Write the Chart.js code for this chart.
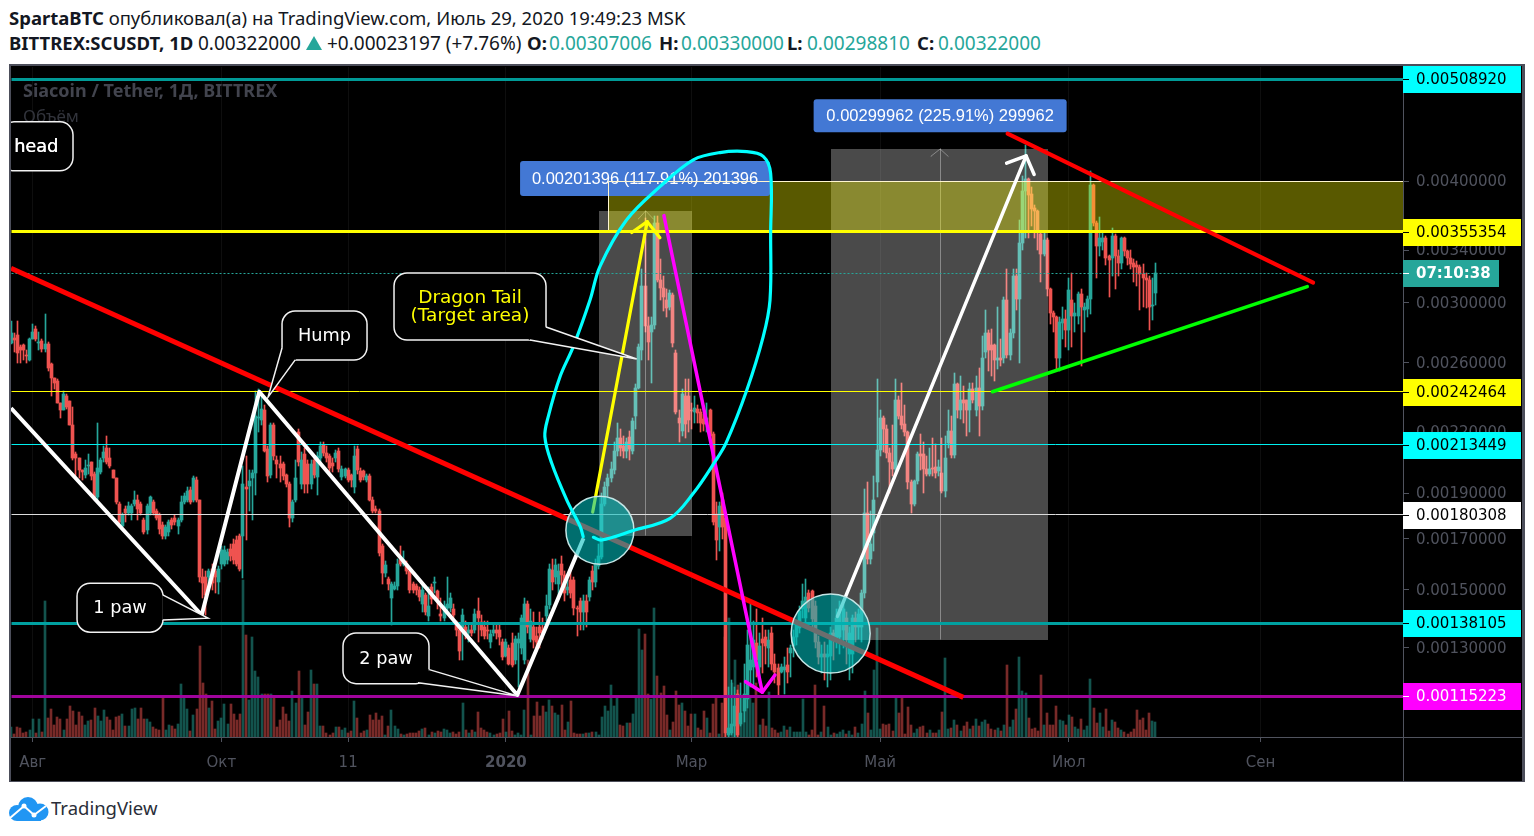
<!DOCTYPE html>
<html>
<head>
<meta charset="utf-8">
<title>SCUSDT</title>
<script src="https://cdn.jsdelivr.net/npm/chart.js@4/dist/chart.umd.js"></script>
<style>
  html, body { margin: 0; padding: 0; background: #fff; width: 1534px; height: 836px; overflow: hidden; }
  #c { position: absolute; left: 0; top: 0; }
  .t { position: absolute; white-space: nowrap; font-family: "Noto Sans", sans-serif; font-size: 18.5px; color: #131722; line-height: 22px; }
  .t b { font-weight: 700; }
  .n { font-size: 19px; }
  .v { color: #26a69a; font-size: 19px; }
</style>
</head>
<body>
<div class="t" style="left:9px;top:7px"><b>SpartaBTC</b> опубликовал(а) на TradingView.com, Июль 29, 2020 19:49:23 MSK</div>
<div class="t" style="left:9px;top:32px"><b>BITTREX:SCUSDT, 1D</b></div>
<div class="t n" style="left:198px;top:32px">0.00322000</div>
<svg style="position:absolute;left:306px;top:36px" width="16" height="14"><path d="M8 0L16 14H0Z" fill="#26a69a"/></svg>
<div class="t n" style="left:327px;top:32px">+0.00023197 (+7.76%)</div>
<div class="t" style="left:527px;top:32px"><b>O:</b></div><div class="t v" style="left:549px;top:32px">0.00307006</div>
<div class="t" style="left:659px;top:32px"><b>H:</b></div><div class="t v" style="left:681px;top:32px">0.00330000</div>
<div class="t" style="left:787px;top:32px"><b>L:</b></div><div class="t v" style="left:807px;top:32px">0.00298810</div>
<div class="t" style="left:917px;top:32px"><b>C:</b></div><div class="t v" style="left:938px;top:32px">0.00322000</div>
<svg style="position:absolute;left:9px;top:797px" width="40" height="24" viewBox="0 0 40 24">
  <circle cx="8" cy="16" r="8" fill="#2196f3"/><circle cx="19" cy="10" r="10" fill="#2196f3"/><circle cx="31" cy="15" r="8.5" fill="#2196f3"/><rect x="8" y="14" width="24" height="10" fill="#2196f3"/>
  <path d="M1 21L15 9L25 18L37 9" fill="none" stroke="#fff" stroke-width="2"/><circle cx="15" cy="9" r="2.5" fill="#fff"/><circle cx="25" cy="18" r="2.5" fill="#fff"/>
</svg>
<div class="t" style="left:51px;top:797px;font-size:18.5px;color:#2a2e39">TradingView</div>
<canvas id="c" width="1534" height="836"></canvas>
<script>
// prices are in units of 0.00001, one candle per day from 25 Jul 2019
const opens = [
  272.5,276,278,270,271,265,262,275,282,272.5,
  274,269,272,259,251,249,236,232,240,237,
  224,209,207,201,198.5,203,205,199,188,200,
  207,212,207,201,197,185,175.5,183,181,181,
  185,187,185,178,173.5,181,186,182,180,176,
  171,173,178,179,175.5,178,186,187,191.5,187,
  196,187,155,155,155,158,157,153,160,160,
  161.5,166,168,169.5,171,171,193,193.5,197,199.5,
  228,226.7,232,211.5,198.5,224,206,204,204,198.5,
  194,179,187,220,194,209,204,194,206,197.5,
  207,213.5,209.5,208,204.5,207,210.5,197.5,198,201,
  198.5,193,211.5,200.5,200.5,196,198,187,183,182,
  167,156.5,154,147,150.5,151.5,161.5,160,160,157,
  152,151.5,150,145,148,140.5,151,152.5,149.5,141.5,
  140,143.5,143.5,143,138.5,136,136.5,137,135,136,
  136,142.5,138.5,137,136,132,135,136,136,132,
  127.5,130,131.5,126,131.5,130,126,145,133,137,
  134,137,136,140.5,144.5,157.5,155,152,160,155.5,
  150,153.5,153.5,143.5,146,142,146,147.5,157,153,
  159,162.5,185,193.5,197,201,210.5,217,213,210.5,
  217.5,210.5,229,245,268,312.5,284,280,284.5,363,
  317,311,302,297,306,266,228,221,240,240,
  232,231,232.5,231,227,224.5,232,219,180.5,175,
  187,179,104.5,105,107,116,107.5,111,114.5,123,
  124,131.5,124,133,133.5,130,135,125,123.5,122.5,
  123,124.5,128.5,130.5,133.5,136.5,143,140,149,149.5,
  144,132,127,128,127,127.5,135,132.5,133.5,136,
  140,128,128,140,137,137,149,181,162,172.5,
  195,211,228,222,209.5,205,201.5,238,229,224.5,
  220,195,185,195.5,209,209,201.5,199,202,202.5,
  200.5,199.5,191,214.5,220.5,208.5,247,232,237.8,238,
  232,244,232,245,234.5,266.5,279,271,271,262,
  263,263,302,265,279,320,303,345.5,391,402,
  388,376,373,353,337,348,310,293,290,263,
  286,289,281,302,291,291,306.5,295,295.5,303,
  397,363,343,346.5,350,335,334,352,335,330,
  350,339,334,330,328,327,321.5,318,317,298,
  307.006
];
const highs = [
  287,279,287,271,272,268,276,285,284,280,
  275,292,273,260,251,250,236,243,241,237,
  234,210,207,201,206,209,205,200,225,207,
  213,218,212,201,197,186,181,184,186,185,
  191,189,186,179,185,188.5,187,183,181,177,
  176,178,179,180,179,188.5,190,193,193,198,
  197.5,187,158,157,158,160,158,159,167,167,
  166,168,170,171,172,203,208,201,201,243,
  244,240,235,213,225,225,208,208,205,199,
  195,187,206,222,210,212,206,206,208,210,
  215,215,213,209,207,211,212,203,202,202,
  199,213,213,202,201,199,199,188,184,183,
  168,161,155,153,153,162,167,165,161,158,
  153,152,151,152,149,151,152,155,150,147,
  146,155,149,145,139,137,143,139,138,138,
  143,147,141,139,139,136,138,138,138,133,
  133,131,135,134,135,141,147,146,143,142,
  137,142,140,148,160,162,162,160,163,157,
  156,157,155,144,147,148,148,155,159,162,
  168,190,195,199,205,215,225,222,218,217,
  221,228,247,272,325,367,290,290,369,369,
  333,320,310,309,307,268,232,244,250,250,
  236,240,235,233,230,236,233,220,186,186,
  190,180,118,120,118,117,119,125,136,145,
  139,143,135,140,136,136,137,128,125,125,
  127,130,131,136,139,144,152,154,150,150,
  146,134,131,132,131,137,136,143,146,145,
  142,137,141,142,143,150,192,195,182,198,
  250,232,229,224,212,224,250,240,248,235,
  221,196,196,210,219,215,208,212,217,214,
  206,217,218,232,229,254,248,252,246,238,
  248,248,252,257,277,295,281,282,272,297,
  275,304,325,282,325,325,365,405,436,403,
  395,378,374,356,355,350,311,294,291,290,
  297,295,318,322,300,308,310,300,305,410,
  398,364,368,355,352,336,358,353,340,351,
  351,340,340,333,331,328,329,322,320,318,
  330
];
const lows = [
  272,267,260,260,262,260,261,275,274,268,
  267,267,255,240,244,236,228,232,233,224,
  206,197,197,196,197,199,196,187,187,199,
  205,204,202,197,185,176,175,177,180,178,
  184,178,180,172,172,180,180,178,172,170,
  170,171,174,176,172,177,185,186,185,186,
  186,153,147,141,150,150,149,148.5,158,159,
  160,161,160,159,157,154.5,169.5,182,178,189,
  220,224,210,195,197,206,197,195,196,193,
  175,177,186,203,192,190,190,192,197,189,
  205,208,205,200,200,205,200,196,197,195,
  193,190,199,195,196,195,186.5,181,181,163,
  152,155,150,137.5,150,150,159,159,156,149,
  149,148,146,142,141,139,145,149,143,139,
  139,142,142,140,134,126,126,133,132,134,
  135,132,134,133,133,130,134,133,131,126,
  127,124.5,124,125,118,128,125,135,132,130,
  129,130,133,139,143,150,152,148,150,146,
  148,147,141,134,136,136,137,146,150,151,
  158,162,184,188,195,199,208,208,207,207,
  206,209,222,244,262,280,262,248,282,315,
  302,294,290,295,270,230,215,218,217,220,
  222,225,225,220,221,220,216,176,161.5,165,
  170,104,104,104.5,104,104,107,108,112,118,
  118,121,119,122,125,124,123,119,115,122,
  116,119,121,127,131,135,140,138,142,137,
  130,125,122,120,118,120,126,130,128,130,
  125,120,122,132,133,132,147,160,160,165,
  188,208,210,207,190,198,199,227,222,218,
  192,181,184,194,201,190,198,198,198,197,
  198,190,188,212,207,207,228,227,225,218,
  220,236,229,218,232,263,255,252,249,256,
  258,260,263,262,276,295,260,340,350,350,
  360,350,340,315,335,305,285,280,255,255,
  275,270,268,270,280,285,258,280,290,292,
  360,318,335,340,328,304,320,310,320,325,
  335,328,325,315,312,295,297,296,281,288,
  298.81
];
const closes = [
  279,274.6,266,268,268,264,275,280,275,273.5,
  269,272,257,251,248,236,232,241,234,224,
  207,207,201,200,202,203.5,198,188,202,206,
  210,205,203,197,186,177,180,181,184,184,
  187,183,181,173,184,188,181,179,174,171,
  175,177,176,177,178,186,188.5,191,186,197,
  187,155,152.5,148,157,152.5,155,158,165.5,165.5,
  164.5,163,161.5,160,158,194,192,195.5,199.5,229,
  228.5,233,210.5,198,224,208,204,202,198,194,
  179,186,197,205,206,194,194,204,198.5,208,
  213,209.5,207,202,203,209.5,201.5,201.5,201.5,196,
  196,208,201,196,197.5,198,187,182,182,164,
  156.5,159.5,152,152,151.5,160,160,161.5,157,150,
  150,150,147.5,150,142,144,146.5,153,146.5,140.5,
  144,145,147,141,136,129,141,134.5,136,135,
  141.5,140,136,134,135.5,134.5,136,135,133.5,127,
  132,125,124.5,133,133,140,145,137,139,132.5,
  132,135,135,144,158,153,159.5,157,155.5,149,
  151,149,143.5,143,142,146,142,153.5,153,160,
  163,185,193,197,201.5,210.5,217,212,210.5,215,
  211.5,226,245,270,312.5,284,273,284.5,363,317,
  311,304,296,307,272.5,231,225,241,224.5,226.7,
  231.5,233.5,230.5,225,224.5,227.5,218,177,169.5,184,
  175,105,106.5,107.5,112.5,104.5,110.5,116,131,126,
  132.5,126,130.5,131.5,130.5,132.5,125,122.5,118.5,124,
  124,122.5,130,133.5,137.5,142.5,146,147.5,143.5,139.5,
  132,127,128,127,128,135,132.5,140,143,143,
  132.5,135,140,137,141.5,149,181,162,168,187,
  211,228,222,209.5,205,201.5,238,229,224,220,
  195,185,195.5,209,208,201.5,199,201.5,201.5,199.5,
  202.5,191,207,220.5,208.5,247,232,237.8,236,232,
  244,238,245,234.5,263,279,268,268,262,263,
  262,302,265,279,320,303,345.5,391,402,387,
  375,373,356,337,348,310,293,290,263,286.5,
  289,281,309,291,293,306.5,297,297,303,397,
  363,343,350,350,334,332.5,352,335,330,350,
  339,334,329,326.5,327,321.5,318,317,297,298.8,
  322
];
const volumes = [
  10,3,10,9,4,5,7,18,4,18,
  5,136,19,28,12,20,18,7,18,31,
  26,12,25,21,12,16,17,29,21,16,
  27,20,17,7,20,21,23,11,11,28,
  29,18,29,18,18,15,10,8,7,39,
  7,12,11,8,13,53,39,28,6,22,
  28,91,54,43,29,36,8,16,19,33,
  13,33,23,17,23,157,102,37,100,66,
  60,43,43,43,43,39,10,17,30,23,
  16,46,34,66,39,12,25,67,53,53,
  11,11,4,2,4,10,10,7,9,4,
  6,36,19,4,6,7,22,17,24,17,
  21,2,11,27,11,8,3,2,3,4,
  4,4,6,8,9,2,5,4,6,5,
  8,7,4,5,3,5,34,7,4,7,
  5,25,9,7,5,4,2,3,4,18,
  5,26,6,2,4,2,27,77,2,21,
  35,21,31,25,37,31,24,22,32,7,
  15,36,4,3,3,3,4,4,5,5,
  2,20,31,26,52,31,41,12,11,14,
  14,23,39,108,87,103,43,38,129,61,
  44,51,22,7,15,46,32,34,26,11,
  23,23,9,7,26,19,4,33,39,3,
  34,100,119,54,77,52,41,41,41,41,
  34,54,12,18,11,45,9,7,4,5,
  11,7,10,5,5,5,38,5,2,7,
  52,2,5,31,10,2,4,3,5,7,
  3,6,2,10,4,13,46,24,7,67,
  109,8,13,12,13,6,39,24,39,3,
  30,12,4,8,10,11,4,7,4,4,
  7,25,79,8,9,17,12,6,11,15,
  8,11,18,11,15,17,13,8,7,9,
  6,12,72,10,17,28,80,46,44,19,
  8,9,6,62,12,24,12,12,31,17,
  16,12,22,20,10,8,18,7,11,58,
  29,14,24,10,28,6,17,15,9,7,
  5,3,5,8,27,17,19,7,24,16,
  15
];

const priceTicks = [400, 340, 300, 260, 220, 190, 170, 150, 130];
const dateTickDays = [7, 68, 109, 160, 220, 281, 342, 404];
const dateTickLabels = ['Авг', 'Окт', '11', '2020', 'Мар', 'Май', 'Июл', 'Сен'];

const levelPrices = [508.92, 355.354, 242.464, 213.449, 180.308, 138.105, 115.223];
const lastPrice = 322;
const countdown = '07:10:38';

// drawings, as [day, price]
const bigRedTrend = [[0, 325.8], [307.9, 114.9]];
const whiteZigzag = [[0, 233.2], [61.66, 141], [80.28, 242.6], [163.7, 115.6], [185.1, 170.2]];
const yellowShaft = [[188.06, 181.4], [205.7, 363.8]];
const yellowHead = [[200.7, 354.5], [205.7, 363.8], [209.8, 350.2]];
const magentaLine = [[211.1, 369], [242.9, 116.4]];
const magentaHead = [[237.5, 119.5], [242.9, 116.4], [247, 121.5]];
const whiteShaft = [[267.2, 140.5], [328.2, 425]];
const whiteHead = [[321.9, 417.8], [328.2, 425], [330.8, 406.7]];
const redFalling = [[322.2, 447.8], [421, 314.8]];
const greenRising = [[317.3, 242.6], [419.1, 311.8]];
const cyanCurve = [
  [188.3, 170.6], [191, 169.5], [201.2, 173.5], [213.1, 178.7], [220.6, 189.9], [227.6, 205],
  [231.2, 214.5], [237.9, 243.6], [243.2, 276.8], [245.4, 302], [245.6, 354], [245.6, 407.8],
  [243.2, 424.4], [237.9, 429.2], [229.2, 428.3], [220.6, 421], [209.8, 395.2], [199, 365.2],
  [190.4, 327], [187.2, 302], [181.8, 270.3], [177.5, 251.5], [173.7, 228.5], [172.6, 217.8],
  [174.8, 204.3], [179.7, 186.8], [184, 175.2], [185, 170.9]
];
const circleCenters = [[190.4, 173.6], [265, 134.7]];
const targetZone = [[193.3, 355.354], [193.3, 400], [450.05, 400], [450.05, 355.354]];
const measureA = [[190.1, 171.2], [190.1, 373.2], [220.2, 373.2], [220.2, 171.2]];
const measureB = [[265.1, 132.6], [265.1, 431.9], [335.3, 431.9], [335.3, 132.6]];
const measureAxisA = [[205.2, 171.2], [205.2, 373.2]];
const measureHeadA = [[202.8, 366], [205.2, 373.2], [207.7, 366]];
const measureAxisB = [[300.4, 132.6], [300.4, 431.9]];
const measureHeadB = [[297.4, 424.5], [300.4, 431.9], [303, 424.5]];
const measureTexts = ['0.00201396 (117.91%) 201396', '0.00299962 (225.91%) 299962'];

const UP = '#26a69a', DOWN = '#ef5350';
const GREY = '#50535e', FRAME = '#4c4e5a';
const levelStyles = [
  { line: '#009a96', w: 3, box: '#00ffff', text: '#000' },
  { line: '#ffff00', w: 3, box: '#ffff00', text: '#000' },
  { line: '#ffff00', w: 1, box: '#ffff00', text: '#000' },
  { line: '#00f0f0', w: 1, box: '#00ffff', text: '#000' },
  { line: '#dddddd', w: 1, box: '#ffffff', text: '#000' },
  { line: '#00a0a0', w: 3, box: '#00ffff', text: '#000' },
  { line: '#a0049c', w: 3, box: '#ff00ff', text: '#fff' }
];

// snap: hidden twin axes round to whole or half pixels so bars and thin lines stay crisp
const snapTo = (p, s) => (s === undefined ? p : Math.round(p - s) + s);

// TradingView log axis is log(price + offset), not plain log
const PRICE_OFFSET = 10;
class TvLogScale extends Chart.LogarithmicScale {
  configure() {
    super.configure();
    this._lo = Math.log(this.min + PRICE_OFFSET);
    this._rng = Math.log(this.max + PRICE_OFFSET) - this._lo;
  }
  getPixelForValue(v) {
    if (v === null || isNaN(v)) return NaN;
    return snapTo(this.getPixelForDecimal((Math.log(v + PRICE_OFFSET) - this._lo) / this._rng), this.options.snap);
  }
  getValueForPixel(p) {
    return Math.exp(this._lo + this.getDecimalForPixel(p) * this._rng) - PRICE_OFFSET;
  }
}
TvLogScale.id = 'tvLog';
TvLogScale.defaults = Chart.LogarithmicScale.defaults;

class SnapLinearScale extends Chart.LinearScale {
  getPixelForValue(v) { return snapTo(super.getPixelForValue(v), this.options.snap); }
}
SnapLinearScale.id = 'snapLinear';
SnapLinearScale.defaults = Chart.LinearScale.defaults;
Chart.register(TvLogScale, SnapLinearScale);

const pts = arr => arr.map(p => ({ x: p[0], y: p[1] }));
const days = closes.map((_, i) => i);
const candleCol = days.map(i => closes[i] >= opens[i] ? UP : DOWN);
const volCol = days.map(i => closes[i] >= opens[i] ? 'rgba(38,166,154,.5)' : 'rgba(239,83,80,.5)');

function line(label, data, color, width, order, extra) {
  return Object.assign({
    type: 'line', label, data: pts(data), borderColor: color, borderWidth: width,
    pointRadius: 0, tension: 0, fill: false, order, clip: 0, xAxisID: 'x', yAxisID: 'y',
    borderCapStyle: 'round', borderJoinStyle: 'round'
  }, extra || {});
}
function shape(label, data, color, order) {
  return line(label, data, 'transparent', 0, order, { fill: 'shape', backgroundColor: color, xAxisID: 'xWhole', yAxisID: 'yWhole' });
}

const xMax = 450.05, yMin = 104, yMax = 523.8;
const crisp = { xAxisID: 'xHalf', yAxisID: 'yHalf', borderCapStyle: 'butt' };
const datasets = [
  { type: 'bar', label: 'vol', data: days.map(i => ({ x: i, y: volumes[i] })), backgroundColor: volCol,
    barThickness: 2, grouped: false, order: 60, xAxisID: 'xWhole', yAxisID: 'y1' },
  { type: 'bar', label: 'wick', data: days.map(i => ({ x: i, y: [lows[i], highs[i]] })), backgroundColor: candleCol,
    barThickness: 1, grouped: false, order: 50, xAxisID: 'xHalf', yAxisID: 'yWhole' },
  { type: 'bar', label: 'body', data: days.map(i => ({ x: i, y: [Math.min(opens[i], closes[i]), Math.max(opens[i], closes[i])] })),
    backgroundColor: candleCol, barThickness: 3, minBarLength: 1, grouped: false, order: 49, xAxisID: 'xHalf', yAxisID: 'yWhole' },
  shape('measureA', measureA, 'rgba(255,255,255,.29)', 40),
  shape('measureB', measureB, 'rgba(255,255,255,.29)', 40),
  line('axisA', measureAxisA, 'rgba(255,255,255,.35)', 1, 39, crisp),
  line('headA', measureHeadA, 'rgba(255,255,255,.35)', 1, 39),
  line('axisB', measureAxisB, 'rgba(255,255,255,.35)', 1, 39, crisp),
  line('headB', measureHeadB, 'rgba(255,255,255,.35)', 1, 39),
  shape('zone', targetZone, 'rgba(255,255,0,.35)', 38),
  line('zoneEdge', targetZone.slice(0, 3), '#fff6d0', 1, 37, crisp)
];
levelPrices.forEach((p, k) => {
  datasets.push(line('level' + k, [[0, p], [xMax, p]], levelStyles[k].line, levelStyles[k].w, 36, crisp));
});
datasets.push(
  line('last', [[0, lastPrice], [xMax, lastPrice]], '#26a69a', 1, 36, Object.assign({ borderDash: [2, 2] }, crisp)),
  line('bigRed', bigRedTrend, '#ff0000', 5, 30, { borderCapStyle: 'butt' }),
  line('zigzag', whiteZigzag, '#ffffff', 4, 29, { borderCapStyle: 'butt' }),
  line('whiteShaft', whiteShaft, '#ffffff', 3.5, 29),
  line('whiteHead', whiteHead, '#ffffff', 3.5, 29),
  line('yellowShaft', yellowShaft, '#ffff00', 3.2, 29),
  line('yellowHead', yellowHead, '#ffff00', 3.2, 29),
  line('redFalling', redFalling, '#ff0000', 4, 29),
  line('green', greenRising, '#00ff00', 3.5, 29),
  { type: 'line', label: 'circles', data: pts(circleCenters), showLine: false, pointRadius: [34, 39.5],
    pointBackgroundColor: 'rgba(0,190,190,.58)', pointBorderColor: '#c4e6e6', pointBorderWidth: 1.5,
    order: 28, clip: false, xAxisID: 'x', yAxisID: 'y' },
  line('magenta', magentaLine, '#ff00ff', 3.5, 27),
  line('magentaHead', magentaHead, '#ff00ff', 3.5, 27),
  line('cyan', cyanCurve, '#00ffff', 3.2, 26, { tension: 0.35 })
);

const callouts = [
  { lines: ['head'], at: [0, 460.4], box: [-10, 0, 72, 49], color: '#fff', tx: 3, bold: true },
  { lines: ['1 paw'], at: [63.7, 139.9], box: [-131, -35, 86, 49], base: [[-45.3, -23.3], [-45.3, 1.7]], color: '#fff' },
  { lines: ['2 paw'], at: [163.5, 115.4], box: [-173.7, -62.7, 86, 50.7], base: [[-87.4, -26], [-98.7, -13]], color: '#fff' },
  { lines: ['Hump'], at: [83.1, 239.5], box: [14, -86, 85, 49], base: [[14, -49], [27, -37]], color: '#fff' },
  { lines: ['Dragon Tail', '(Target area)'], at: [202.3, 262.4], box: [-242.7, -86, 152, 67], base: [[-90.7, -32], [-106.7, -19]], color: '#ffff00', size: 18.5 }
];
const measureBoxes = [
  { at: [205, 402.8], w: 250, h: 35, text: measureTexts[0] },
  { at: [300.4, 467], w: 253, h: 33, text: measureTexts[1] }
];

function drawCallout(ctx, c, sx, sy, area) {
  const tipX = sx.getPixelForValue(c.at[0]), tipY = sy.getPixelForValue(c.at[1]);
  const [dx, dy, w, h] = c.box;
  const x = tipX + dx, y = tipY + dy;
  ctx.save();
  ctx.beginPath(); ctx.rect(area.left, area.top, area.right - area.left, area.bottom - area.top); ctx.clip();
  ctx.lineWidth = 1.5; ctx.strokeStyle = '#f2f2f2'; ctx.fillStyle = '#000';
  ctx.beginPath(); ctx.roundRect(x, y, w, h, 13); ctx.fill(); ctx.stroke();
  if (c.base) {
    const b1 = [tipX + c.base[0][0], tipY + c.base[0][1]], b2 = [tipX + c.base[1][0], tipY + c.base[1][1]];
    ctx.beginPath(); ctx.moveTo(b1[0], b1[1]); ctx.lineTo(tipX, tipY); ctx.lineTo(b2[0], b2[1]); ctx.closePath(); ctx.fill();
    ctx.beginPath(); ctx.moveTo(b1[0], b1[1]); ctx.lineTo(x + w / 2, y + h / 2); ctx.lineTo(b2[0], b2[1]); ctx.closePath(); ctx.fill();
    ctx.beginPath(); ctx.moveTo(b1[0], b1[1]); ctx.lineTo(tipX, tipY); ctx.lineTo(b2[0], b2[1]); ctx.stroke();
  }
  ctx.fillStyle = c.color;
  ctx.font = (c.size || 17.7) + 'px "DejaVu Sans"';
  ctx.textBaseline = 'middle';
  ctx.textAlign = c.tx !== undefined ? 'left' : 'center';
  const tx = c.tx !== undefined ? area.left + c.tx : x + w / 2;
  const step = 18;
  c.lines.forEach((s, k) => {
    const ty = y + h / 2 + 1 + (k - (c.lines.length - 1) / 2) * step;
    ctx.fillText(s, tx, ty);
    if (c.bold) ctx.fillText(s, tx + 0.4, ty);
  });
  ctx.restore();
}

const tvPlugin = {
  id: 'tvPlugin',
  beforeDraw(chart) {
    const ctx = chart.ctx;
    ctx.save();
    ctx.fillStyle = FRAME; ctx.fillRect(9, 64, 1516, 718);
    ctx.fillStyle = '#000'; ctx.fillRect(11, 66, 1511, 715);
    ctx.restore();
  },
  beforeDatasetsDraw(chart) {
    const ctx = chart.ctx;
    ctx.save();
    ctx.fillStyle = '#42444e';
    ctx.font = 'bold 18px "Noto Sans"';
    ctx.textBaseline = 'middle';
    ctx.fillText('Siacoin / Tether, 1Д, BITTREX', 23, 92);
    ctx.fillStyle = '#32343c';
    ctx.font = '17px "Noto Sans"';
    ctx.fillText('Объём', 23, 117);
    ctx.restore();
  },
  afterDatasetDraw(chart, args) {
    // the blue measure labels sit under the cyan curve and above the zone
    if (chart.data.datasets[args.index].label !== 'zone') return;
    const ctx = chart.ctx, sx = chart.scales.x, sy = chart.scales.y;
    ctx.save();
    measureBoxes.forEach(m => {
      const cx = sx.getPixelForValue(m.at[0]), cy = sy.getPixelForValue(m.at[1]);
      ctx.fillStyle = '#4378d4';
      ctx.beginPath(); ctx.roundRect(cx - m.w / 2, cy - m.h / 2, m.w, m.h, 3); ctx.fill();
      ctx.fillStyle = '#fff';
      ctx.font = '16.5px "Liberation Sans"';
      ctx.textAlign = 'center'; ctx.textBaseline = 'middle';
      ctx.fillText(m.text, cx, cy + 1);
    });
    ctx.restore();
  },
  afterDatasetsDraw(chart) {
    const ctx = chart.ctx, sx = chart.scales.x, sy = chart.scales.y, area = chart.chartArea;
    callouts.forEach(c => drawCallout(ctx, c, sx, sy, area));
    ctx.save();
    // pane separators
    ctx.fillStyle = GREY;
    ctx.fillRect(area.right, 66, 1, 715);
    ctx.fillRect(11, area.bottom, 1511, 1);
    // price boxes on the axis
    ctx.textBaseline = 'middle';
    ctx.font = '15px "DejaVu Sans"';
    levelPrices.forEach((p, k) => {
      const y = Math.round(sy.getPixelForValue(p)), st = levelStyles[k];
      ctx.fillStyle = st.box; ctx.fillRect(area.right, y - 13, 118, 27);
      ctx.fillStyle = st.text;
      ctx.fillRect(area.right, y, 6, 1);
      ctx.fillText((p / 1e5).toFixed(8), area.right + 13, y + 1.5);
    });
    const ly = Math.round(sy.getPixelForValue(lastPrice));
    ctx.fillStyle = UP; ctx.fillRect(area.right, ly - 13, 96, 27);
    ctx.fillStyle = '#fff'; ctx.fillRect(area.right, ly, 6, 1);
    ctx.font = 'bold 15px "DejaVu Sans"';
    ctx.fillText(countdown, area.right + 13, ly + 1.5);
    ctx.restore();
  }
};

const hiddenX = snap => ({ type: 'snapLinear', axis: 'x', display: false, position: 'bottom', min: 0, max: xMax, offset: false, bounds: 'data', snap, grid: { offset: false } });
const hiddenY = snap => ({ type: 'tvLog', axis: 'y', display: false, position: 'right', min: yMin, max: yMax, bounds: 'data', snap });

new Chart(document.getElementById('c'), {
  data: { datasets },
  plugins: [tvPlugin],
  options: {
    responsive: false, animation: false, events: [],
    // the big circle markers would otherwise widen the padding
    layout: { autoPadding: false, padding: { left: 11, top: 67, right: 12, bottom: 55 } },
    plugins: { legend: { display: false }, title: { display: false }, tooltip: { enabled: false } },
    scales: {
      x: {
        type: 'linear', position: 'bottom', min: 0, max: xMax, offset: false, bounds: 'data',
        afterBuildTicks: a => { a.ticks = dateTickDays.map(v => ({ value: v })); },
        afterFit: a => { a.height = 44; a.paddingLeft = 0; a.paddingRight = 0; },
        border: { display: false },
        grid: { offset: false, color: '#0e0e0e', tickColor: GREY, tickLength: 5, drawOnChartArea: true },
        ticks: {
          autoSkip: false, maxRotation: 0, minRotation: 0, padding: 12, color: GREY,
          font: c => ({ family: '"DejaVu Sans"', size: 15, weight: dateTickLabels[c.index] === '2020' ? 'bold' : 'normal' }),
          callback: (v, i) => dateTickLabels[i]
        }
      },
      xHalf: hiddenX(0.5),
      xWhole: hiddenX(0),
      y: {
        type: 'tvLog', position: 'right', min: yMin, max: yMax, bounds: 'data',
        afterBuildTicks: a => { a.ticks = priceTicks.map(v => ({ value: v })); },
        afterFit: a => { a.width = 119; a.paddingTop = 0; a.paddingBottom = 0; },
        border: { display: false },
        grid: { drawOnChartArea: false, tickColor: GREY, tickLength: 6 },
        ticks: {
          autoSkip: false, padding: 7, labelOffset: 1, color: GREY, font: { family: '"DejaVu Sans"', size: 15 },
          callback: v => (v / 1e5).toFixed(8)
        }
      },
      yHalf: hiddenY(0.5),
      yWhole: hiddenY(0),
      y1: { type: 'linear', display: false, min: 0, max: 670 }
    }
  }
});
</script>
</body>
</html>
